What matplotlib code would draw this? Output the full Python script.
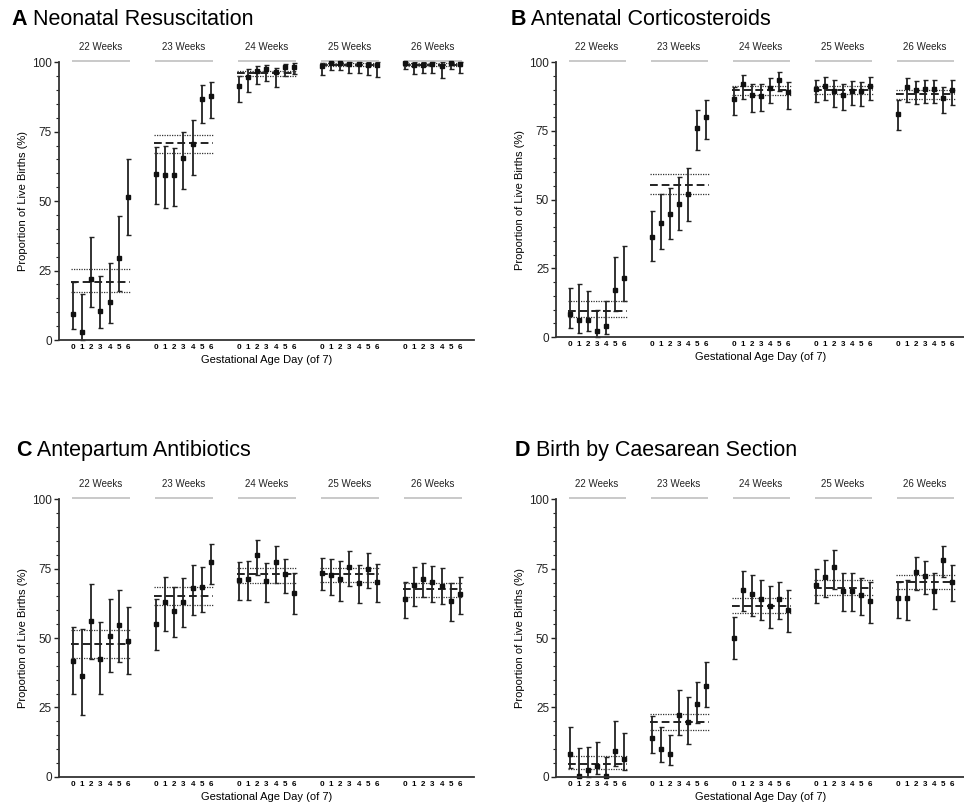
import numpy as np
import matplotlib.pyplot as plt
from matplotlib.ticker import MultipleLocator

plt.rcParams['font.family'] = ['Liberation Sans', 'DejaVu Sans']

weeks = ['22 Weeks', '23 Weeks', '24 Weeks', '25 Weeks', '26 Weeks']
days = [0, 1, 2, 3, 4, 5, 6]

# A - neonatal resuscitation (estimate, lower CI, upper CI), 7 days per week
resus_est = [9.5, 2.8, 22.0, 10.6, 13.8, 29.6, 51.6,
             59.7, 59.4, 59.4, 65.4, 70.5, 86.7, 87.9,
             91.6, 94.8, 96.9, 97.6, 96.4, 98.3, 98.4,
             98.6, 99.8, 99.8, 99.4, 99.3, 99.0, 99.0,
             99.8, 99.2, 99.0, 99.3, 98.6, 99.8, 99.3]
resus_lo = [4.0, 0.0, 11.8, 4.4, 6.2, 17.8, 37.7,
            48.9, 47.7, 48.4, 54.4, 59.3, 78.3, 80.0,
            85.7, 89.4, 92.2, 93.3, 91.0, 95.1, 95.8,
            95.4, 97.1, 97.2, 96.2, 96.1, 95.3, 94.8,
            97.6, 95.9, 96.0, 96.2, 94.5, 97.6, 96.2]
resus_hi = [21.0, 16.5, 37.2, 23.0, 27.7, 44.7, 65.0,
            69.4, 70.0, 69.1, 74.8, 79.2, 91.8, 93.0,
            95.2, 97.5, 98.6, 99.2, 98.1, 99.3, 99.6,
            99.8, 100, 100, 100, 100, 100, 100,
            100, 100, 100, 100, 100, 100, 100]
resus_mean = [21.0, 70.8, 96.2, 99.1, 99.2]
resus_mean_lo = [17.2, 67.5, 95.0, 98.5, 98.7]
resus_mean_hi = [25.6, 74.0, 97.0, 99.6, 99.7]

# B - antenatal corticosteroids
steroid_est = [8.3, 6.1, 6.3, 2.1, 4.0, 17.0, 21.4,
               36.3, 41.6, 44.8, 48.6, 51.9, 76.2, 80.0,
               86.8, 92.2, 88.1, 87.8, 90.5, 93.7, 89.2,
               90.2, 91.3, 89.6, 88.1, 89.7, 89.4, 91.5,
               81.2, 90.9, 90.0, 90.4, 90.2, 87.1, 89.9]
steroid_lo = [3.4, 1.6, 2.1, 0.0, 1.0, 9.4, 13.0,
              27.8, 32.0, 35.7, 39.0, 42.3, 67.9, 72.2,
              80.7, 86.8, 82.0, 82.1, 85.1, 89.6, 83.1,
              85.4, 86.1, 83.6, 82.5, 84.3, 84.1, 86.3,
              75.2, 85.7, 85.0, 85.3, 85.1, 81.5, 84.6]
steroid_hi = [18.0, 19.4, 16.8, 10.0, 13.1, 29.3, 33.0,
              45.7, 52.0, 54.2, 58.2, 61.4, 82.7, 86.1,
              91.1, 95.4, 92.1, 92.0, 94.2, 96.4, 92.9,
              93.4, 94.7, 93.4, 92.0, 93.3, 93.0, 94.8,
              86.3, 94.3, 93.2, 93.7, 93.6, 91.0, 93.4]
steroid_mean = [9.6, 55.5, 89.8, 89.9, 88.3]
steroid_mean_lo = [7.2, 52.2, 88.1, 88.3, 86.5]
steroid_mean_hi = [13.0, 59.2, 91.4, 91.4, 89.9]

# C - antepartum antibiotics
abx_est = [41.6, 36.4, 56.3, 42.3, 50.8, 54.7, 49.0,
           55.0, 62.9, 59.7, 63.1, 67.9, 68.3, 77.5,
           70.9, 71.4, 79.8, 70.6, 77.3, 73.1, 66.3,
           73.6, 72.7, 71.2, 75.5, 69.9, 74.9, 70.3,
           63.9, 69.0, 71.4, 70.2, 68.9, 63.3, 65.9]
abx_lo = [30.0, 22.2, 42.5, 29.8, 37.6, 41.3, 37.0,
          45.7, 52.6, 50.2, 54.0, 58.3, 59.5, 69.5,
          63.6, 63.6, 72.9, 63.1, 69.9, 66.1, 58.7,
          67.3, 65.4, 63.2, 68.9, 62.7, 68.1, 63.1,
          57.1, 61.5, 64.7, 63.1, 62.1, 56.0, 58.8]
abx_hi = [54.1, 53.3, 69.4, 55.8, 64.0, 67.2, 61.2,
          64.0, 72.1, 68.5, 71.8, 76.3, 75.7, 83.9,
          77.3, 77.9, 85.2, 77.0, 83.2, 78.6, 73.3,
          78.8, 78.6, 77.6, 81.3, 76.2, 80.5, 76.8,
          70.1, 75.5, 77.2, 76.1, 75.1, 69.7, 72.1]
abx_mean = [47.7, 65.1, 73.0, 73.1, 67.5]
abx_mean_lo = [42.7, 61.8, 70.0, 70.2, 64.9]
abx_mean_hi = [52.9, 68.5, 75.1, 75.1, 69.8]

# D - birth by caesarean section
cs_est = [8.2, 0.4, 2.4, 4.0, 0.4, 9.4, 6.5,
          13.8, 10.0, 8.3, 22.2, 19.8, 26.1, 32.7,
          49.9, 67.3, 65.7, 63.9, 61.5, 63.9, 60.0,
          69.1, 71.9, 75.6, 67.1, 67.1, 65.5, 63.3,
          64.5, 64.4, 73.8, 72.2, 67.1, 78.1, 70.3]
cs_lo = [3.2, 0.0, 0.0, 1.0, 0.0, 4.0, 2.5,
         8.4, 5.2, 4.2, 15.1, 11.7, 19.5, 25.0,
         42.4, 59.7, 58.1, 56.5, 53.7, 56.9, 52.0,
         62.7, 64.9, 67.5, 59.9, 59.9, 58.3, 55.6,
         57.2, 56.5, 67.4, 65.9, 60.3, 71.9, 63.2]
cs_hi = [17.8, 10.2, 10.7, 12.7, 7.0, 20.1, 15.6,
         21.9, 18.0, 15.1, 31.1, 28.8, 34.3, 41.2,
         57.5, 74.3, 72.8, 70.8, 68.8, 70.3, 67.3,
         74.8, 78.1, 81.7, 73.6, 73.6, 71.8, 70.1,
         70.3, 70.9, 79.3, 77.6, 73.6, 83.3, 76.4]
cs_mean = [4.6, 19.7, 61.7, 68.1, 70.2]
cs_mean_lo = [2.8, 16.8, 58.9, 65.6, 67.5]
cs_mean_hi = [7.3, 22.5, 64.5, 70.8, 72.7]

panels = [
    ('A', 'Neonatal Resuscitation', resus_est, resus_lo, resus_hi, resus_mean, resus_mean_lo, resus_mean_hi),
    ('B', 'Antenatal Corticosteroids', steroid_est, steroid_lo, steroid_hi, steroid_mean, steroid_mean_lo, steroid_mean_hi),
    ('C', 'Antepartum Antibiotics', abx_est, abx_lo, abx_hi, abx_mean, abx_mean_lo, abx_mean_hi),
    ('D', 'Birth by Caesarean Section', cs_est, cs_lo, cs_hi, cs_mean, cs_mean_lo, cs_mean_hi),
]

rects = [[0.0612, 0.5792, 0.4305, 0.3437],
         [0.5768, 0.5829, 0.4253, 0.3400],
         [0.0612, 0.0387, 0.4305, 0.3433],
         [0.5768, 0.0387, 0.4253, 0.3433]]
title_xy = [(0.012, 0.9755), (0.530, 0.9755), (0.017, 0.4425), (0.534, 0.4425)]

fig = plt.figure(figsize=(9.64, 8.08), dpi=100)

week_start = np.arange(len(weeks)) * 9
xpos = (week_start[:, None] + np.array(days)[None, :]).ravel()

for (letter, name, est, lo, hi, mean, mlo, mhi), rect, (tx, ty) in zip(panels, rects, title_xy):
    ax = fig.add_axes(rect)
    est = np.array(est)
    lo = np.array(lo)
    hi = np.array(hi)

    cont = ax.errorbar(xpos, est, yerr=[est - lo, hi - est], fmt='s', ms=2.4,
                       color='#111111', ecolor='#222222', elinewidth=1.3,
                       capsize=1.8, capthick=1.0)
    for child in cont.get_children():
        child.set_clip_on(False)

    ax.hlines(mean, week_start - 0.15, week_start + 6.25, colors='#222222',
              linestyles=(0, (4, 2)), lw=1.4)
    ax.hlines(mlo, week_start - 0.15, week_start + 6.25, colors='#333333',
              linestyles=(0, (1, 1)), lw=0.9)
    ax.hlines(mhi, week_start - 0.15, week_start + 6.25, colors='#333333',
              linestyles=(0, (1, 1)), lw=0.9)

    # week headers with grey bar
    for ws, wk in zip(week_start, weeks):
        ax.plot([ws - 0.1, ws + 6.2], [100.6, 100.6], color='#c0c0c0', lw=1.2,
                clip_on=False, solid_capstyle='butt')
        ax.annotate(wk, xy=(ws + 3, 100), xytext=(0, 11), textcoords='offset points',
                    ha='center', va='center', fontsize=7, color='#222222',
                    annotation_clip=False)

    ax.set_xlim(-1.5, 43.5)
    ax.set_ylim(0, 100)
    ax.set_xticks(xpos)
    ax.set_xticklabels([str(d) for d in days] * len(weeks), fontsize=5.8,
                       fontweight='bold')
    ax.tick_params(axis='x', length=0, pad=3)
    ax.yaxis.set_major_locator(MultipleLocator(25))
    ax.yaxis.set_minor_locator(MultipleLocator(5))
    ax.tick_params(axis='y', which='major', length=3.5, width=1, labelsize=8.5,
                   pad=1.5, colors='#222222')
    ax.tick_params(axis='y', which='minor', length=2, width=0.8, colors='#222222')
    for s in ['top', 'right']:
        ax.spines[s].set_visible(False)
    for s in ['left', 'bottom']:
        ax.spines[s].set_linewidth(1.3)
        ax.spines[s].set_color('#333333')

    ax.set_xlabel('Gestational Age Day (of 7)', fontsize=8, labelpad=3)
    ax.set_ylabel('Proportion of Live Births (%)', fontsize=8, labelpad=3)

    t = fig.text(tx, ty, letter, fontsize=15.5, fontweight='bold', va='center', ha='left')
    ax.annotate(' ' + name, xy=(1, 0), xycoords=t, va='bottom', ha='left',
                fontsize=15.5, annotation_clip=False)

fig.savefig('out.png', dpi=100)
